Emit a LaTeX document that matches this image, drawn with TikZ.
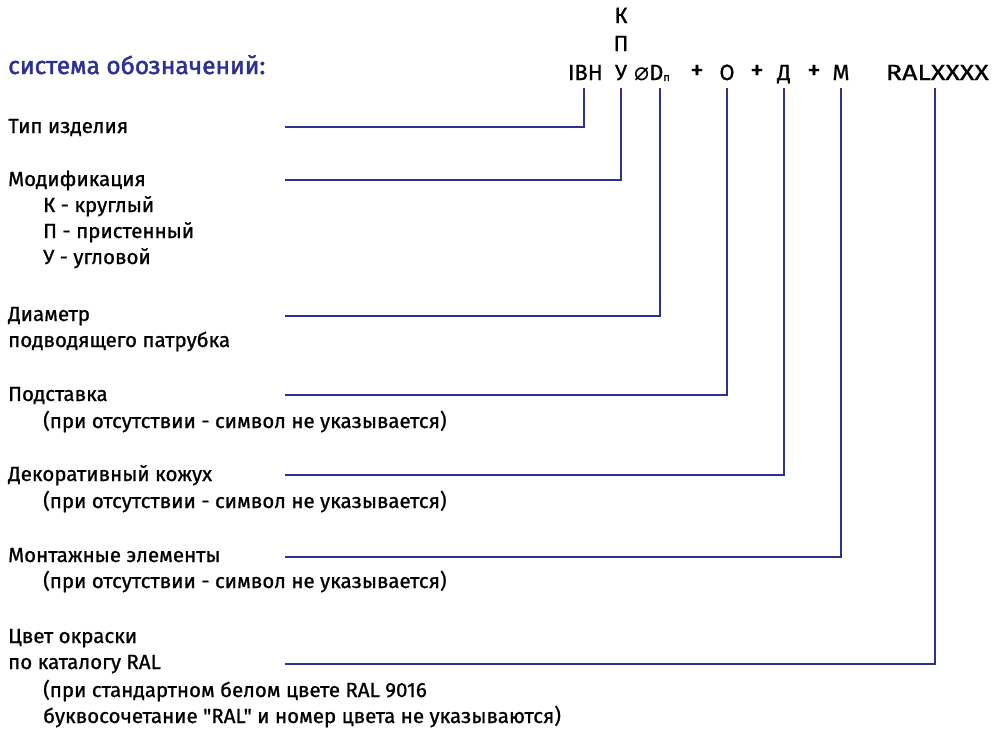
\documentclass[tikz,border=0pt]{standalone}
\usepackage{fontspec}
\usepackage{graphicx}
\setmainfont{Fira Sans}
\newfontfamily\bodyf{Fira Sans}[FakeBold=0.9]
\newfontfamily\headf{Fira Sans}[FakeBold=1.8]
\newfontfamily\djv{DejaVu Sans}
\definecolor{navy}{RGB}{46,49,146}
\begin{document}
\begin{tikzpicture}[x=1pt,y=-1pt,
  lbl/.style={anchor=base west, inner sep=0pt, font=\bodyf\fontsize{20.5}{20.5}\selectfont},
  head/.style={anchor=base west, inner sep=0pt, text=navy, font=\headf\fontsize{24.5}{24.5}\selectfont},
  code/.style={anchor=base, inner sep=0pt, font=\bodyf\fontsize{22}{22}\selectfont},
  plus/.style={code, font=\bodyf\fontsize{27}{27}\selectfont},
  conn/.style={draw=navy, line width=2pt}]
\useasboundingbox (0,0) rectangle (992,732);

% heading
\node[head] (hd) at (8,74) {система обозначений:};

% code line
\node[code] (k) at (621,23) {К};
\node[code] (p) at (621,51) {П};
\node[code] (u) at (621,80) {У};
\node[code,anchor=base east] (ibh) at (603,80) {IВН};
\node[code,anchor=base west] (dn) at (634,80) {{\djv\fontsize{25}{25}\selectfont ⌀}D\raisebox{-1pt}{\bodyf\fontsize{11}{11}\selectfont п}};
\node[plus] (pl1) at (697,79) {+};
\node[code] (o) at (727,80) {О};
\node[plus] (pl2) at (757,79) {+};
\node[code] (d) at (784,80) {Д};
\node[plus] (pl3) at (814,79) {+};
\node[code] (m) at (841,80) {М};
\node[code,anchor=base east] (ral) at (989,80) {\scalebox{1.22}[1]{RALXXXX}};

% labels
\node[lbl] (t1) at (8,133) {Тип изделия};
\node[lbl] (t2) at (8,186) {Модификация};
\node[lbl] (t2a) at (43,212) {К - круглый};
\node[lbl] (t2b) at (43,238) {П - пристенный};
\node[lbl] (t2c) at (43,264) {У - угловой};
\node[lbl] (t3) at (8,321) {Диаметр};
\node[lbl] (t3a) at (8,347) {подводящего патрубка};
\node[lbl] (t4) at (8,401) {Подставка};
\node[lbl] (t4a) at (43,428) {(при отсутствии - символ не указывается)};
\node[lbl] (t5) at (8,481) {Декоративный кожух};
\node[lbl] (t5a) at (43,508) {(при отсутствии - символ не указывается)};
\node[lbl] (t6) at (8,562) {Монтажные элементы};
\node[lbl] (t6a) at (43,588) {(при отсутствии - символ не указывается)};
\node[lbl] (t7) at (8,643) {Цвет окраски};
\node[lbl] (t7a) at (8,669) {по каталогу RAL};
\node[lbl] (t7b) at (43,697) {(при стандартном белом цвете RAL 9016};
\node[lbl] (t7c) at (43,723) {буквосочетание "RAL" и номер цвета не указываются)};

% line ends
\coordinate (e1) at (285,127);
\coordinate (e2) at (285,180);
\coordinate (e3) at (285,316);
\coordinate (e4) at (285,395);
\coordinate (e5) at (285,475);
\coordinate (e6) at (285,557);
\coordinate (e7) at (285,664);

% connectors
\draw[conn] ([xshift=-19pt,yshift=-8pt]ibh.base east) |- (e1);
\draw[conn] ([yshift=-8pt]u.base) |- (e2);
\draw[conn] ([xshift=26pt,yshift=-8pt]dn.base west) |- (e3);
\draw[conn] ([yshift=-8pt]o.base) |- (e4);
\draw[conn] ([yshift=-8pt]d.base) |- (e5);
\draw[conn] ([yshift=-8pt]m.base) |- (e6);
\draw[conn] ([xshift=-54pt,yshift=-8pt]ral.base east) |- (e7);
\end{tikzpicture}
\end{document}
